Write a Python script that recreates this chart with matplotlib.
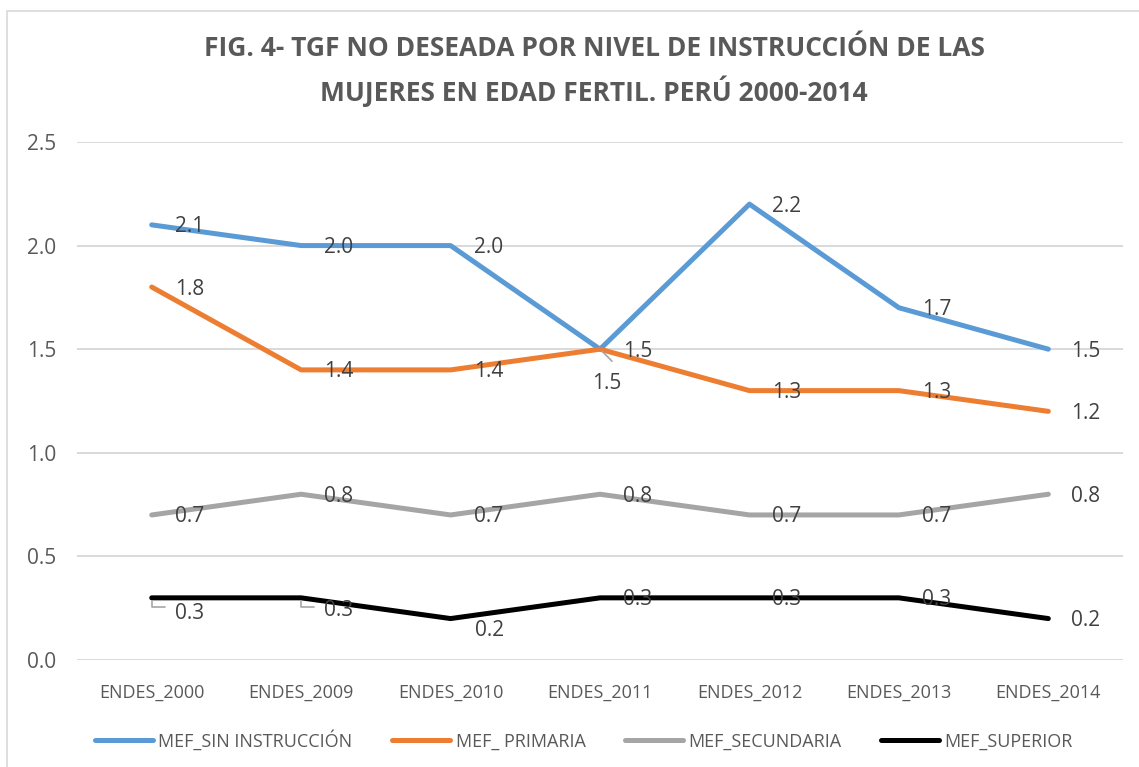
import matplotlib.pyplot as plt
from matplotlib.patches import Rectangle

# data
years = ['ENDES_2000', 'ENDES_2009', 'ENDES_2010', 'ENDES_2011', 'ENDES_2012', 'ENDES_2013', 'ENDES_2014']
sin_instruccion = [2.1, 2.0, 2.0, 1.5, 2.2, 1.7, 1.5]
primaria = [1.8, 1.4, 1.4, 1.5, 1.3, 1.3, 1.2]
secundaria = [0.7, 0.8, 0.7, 0.8, 0.7, 0.7, 0.8]
superior = [0.3, 0.3, 0.2, 0.3, 0.3, 0.3, 0.2]

series_names = ['MEF_SIN INSTRUCCIÓN', 'MEF_ PRIMARIA', 'MEF_SECUNDARIA', 'MEF_SUPERIOR']
colors = ['#5B9BD5', '#ED7D31', '#A5A5A5', '#000000']

plt.rcParams['font.family'] = ['Open Sans', 'DejaVu Sans']

fig = plt.figure(figsize=(11.39, 7.67), dpi=100)
ax = fig.add_axes([0.0676, 0.1395, 0.9184, 0.6754])

# chart frame
fig.patches.append(Rectangle((7 / 1139, -0.1), 1.2, 1 - 11 / 767 + 0.1, transform=fig.transFigure,
                             fill=False, edgecolor='#D9D9D9', lw=1.2))

x = list(range(len(years)))
all_series = [sin_instruccion, primaria, secundaria, superior]
for vals, name, c in zip(all_series, series_names, colors):
    ax.plot(x, vals, color=c, lw=3.6, label=name, solid_capstyle='round', solid_joinstyle='round')

# label offsets in pixels (dx, dy down); default to the right of the point
px = 0.72
default_off = (23, 2)
special = {
    (0, 3): (7, 34),
    (3, 0): (23, 16),
    (3, 1): (23, 13),
    (3, 2): (24, 12),
}
for si, vals in enumerate(all_series):
    for i, v in enumerate(vals):
        dx, dy = special.get((si, i), default_off)
        ha = 'left'
        if (si, i) == (0, 3):
            ha = 'center'
            ax.annotate('', xy=(i, v), xytext=(12 * px, -12 * px), textcoords='offset points',
                        arrowprops=dict(arrowstyle='-', color='#A5A5A5', lw=1.2, shrinkA=0, shrinkB=2))
        if si == 3 and i in (0, 1):
            ax.annotate('', xy=(i, v), xytext=(13 * px, -9 * px), textcoords='offset points',
                        arrowprops=dict(arrowstyle='-', color='#A5A5A5', lw=1.2, shrinkA=0, shrinkB=2,
                                        connectionstyle='angle,angleA=0,angleB=90,rad=0'))
        ax.annotate(f'{v:.1f}', xy=(i, v), xytext=(dx * px, -dy * px), textcoords='offset points',
                    ha=ha, va='center', fontsize=15, color='#404040')

ax.set_xlim(-0.5, len(years) - 0.5)
ax.set_ylim(0, 2.5)
ax.set_yticks([0, 0.5, 1.0, 1.5, 2.0, 2.5])
ax.set_yticklabels(['0.0', '0.5', '1.0', '1.5', '2.0', '2.5'])
ax.set_xticks(x)
ax.set_xticklabels(years)
ax.grid(axis='y', color='#D9D9D9', lw=1.4)
ax.set_axisbelow(True)
for s in ax.spines.values():
    s.set_visible(False)
ax.tick_params(axis='both', length=0, colors='#595959')
ax.tick_params(axis='y', labelsize=15, pad=15)
ax.tick_params(axis='x', labelsize=13, pad=17)

fig.text(594 / 1139, 1 - 71 / 767, 'FIG. 4- TGF NO DESEADA POR NIVEL DE INSTRUCCIÓN DE LAS\nMUJERES EN EDAD FERTIL. PERÚ 2000-2014',
         ha='center', va='center', fontsize=19, fontweight='bold', color='#595959', linespacing=1.5,
         family=['Open Sans', 'DejaVu Sans'])

ax.legend(loc='center', bbox_to_anchor=(584 / 1139, 1 - 740 / 767), bbox_transform=fig.transFigure,
          ncol=4, frameon=False, fontsize=13, handlelength=3.2, columnspacing=2.2, handletextpad=0.3,
          labelcolor='#595959')

fig.savefig('out.png', dpi=100)
